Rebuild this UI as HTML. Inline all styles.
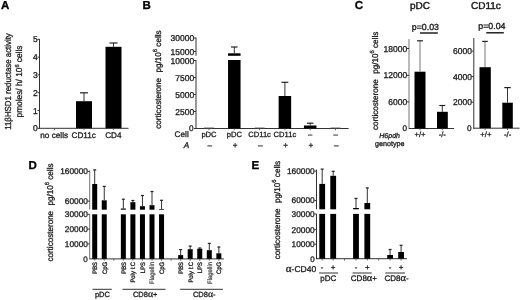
<!DOCTYPE html>
<html><head><meta charset="utf-8"><style>
html,body{margin:0;padding:0;background:#fff;}
svg{display:block;will-change:transform;text-rendering:geometricPrecision;filter:blur(0.3px);}
</style></head><body>
<svg width="520" height="300" viewBox="0 0 520 300">
<rect width="520" height="300" fill="#fff"/>
<line x1="39.5" y1="39" x2="39.5" y2="128.8" stroke="#333" stroke-width="1"/>
<line x1="39.5" y1="128.3" x2="128.5" y2="128.3" stroke="#333" stroke-width="1"/>
<line x1="37.5" y1="128.3" x2="39.5" y2="128.3" stroke="#333" stroke-width="1"/>
<line x1="37.5" y1="110.5" x2="39.5" y2="110.5" stroke="#333" stroke-width="1"/>
<line x1="37.5" y1="92.7" x2="39.5" y2="92.7" stroke="#333" stroke-width="1"/>
<line x1="37.5" y1="74.9" x2="39.5" y2="74.9" stroke="#333" stroke-width="1"/>
<line x1="37.5" y1="57.1" x2="39.5" y2="57.1" stroke="#333" stroke-width="1"/>
<line x1="37.5" y1="39.3" x2="39.5" y2="39.3" stroke="#333" stroke-width="1"/>
<rect x="76.00" y="101.20" width="16.00" height="27.10" fill="#000"/>
<rect x="105.50" y="46.80" width="16.00" height="81.50" fill="#000"/>
<line x1="84" y1="92.8" x2="84" y2="101.2" stroke="#333" stroke-width="1"/>
<line x1="80" y1="92.8" x2="88" y2="92.8" stroke="#222" stroke-width="1.2"/>
<line x1="113.5" y1="43" x2="113.5" y2="46.8" stroke="#333" stroke-width="1"/>
<line x1="109.5" y1="43" x2="117.5" y2="43" stroke="#222" stroke-width="1.2"/>
<line x1="54.5" y1="128.3" x2="54.5" y2="130.1" stroke="#555" stroke-width="0.9"/>
<line x1="84" y1="128.3" x2="84" y2="130.1" stroke="#555" stroke-width="0.9"/>
<line x1="113.5" y1="128.3" x2="113.5" y2="130.1" stroke="#555" stroke-width="0.9"/>
<line x1="196" y1="37.5" x2="196" y2="55.8" stroke="#333" stroke-width="1"/>
<line x1="196" y1="60" x2="196" y2="129" stroke="#333" stroke-width="1"/>
<line x1="196" y1="128.5" x2="348.6" y2="128.5" stroke="#333" stroke-width="1"/>
<line x1="194" y1="38" x2="196" y2="38" stroke="#333" stroke-width="1"/>
<line x1="194" y1="51.5" x2="196" y2="51.5" stroke="#333" stroke-width="1"/>
<line x1="194" y1="60.5" x2="196" y2="60.5" stroke="#333" stroke-width="1"/>
<line x1="194" y1="77.5" x2="196" y2="77.5" stroke="#333" stroke-width="1"/>
<line x1="194" y1="94.5" x2="196" y2="94.5" stroke="#333" stroke-width="1"/>
<line x1="194" y1="111.5" x2="196" y2="111.5" stroke="#333" stroke-width="1"/>
<line x1="194" y1="128.5" x2="196" y2="128.5" stroke="#333" stroke-width="1"/>
<rect x="228.05" y="53.30" width="12.50" height="2.50" fill="#000"/>
<rect x="228.05" y="60.00" width="12.50" height="68.50" fill="#000"/>
<line x1="234.3" y1="47" x2="234.3" y2="53.3" stroke="#333" stroke-width="1"/>
<line x1="231.05" y1="47" x2="237.55" y2="47" stroke="#222" stroke-width="1.2"/>
<rect x="278.65" y="96.00" width="12.50" height="32.50" fill="#000"/>
<line x1="284.9" y1="82.3" x2="284.9" y2="96" stroke="#333" stroke-width="1"/>
<line x1="281.5" y1="82.3" x2="288.3" y2="82.3" stroke="#222" stroke-width="1.2"/>
<rect x="303.95" y="125.50" width="12.50" height="3.00" fill="#000"/>
<line x1="310.2" y1="123.2" x2="310.2" y2="125.5" stroke="#333" stroke-width="1"/>
<line x1="306.95" y1="123.2" x2="313.45" y2="123.2" stroke="#222" stroke-width="1.2"/>
<rect x="204.00" y="127.60" width="10.00" height="1.00" fill="#444"/>
<rect x="254.60" y="127.60" width="10.00" height="1.00" fill="#444"/>
<rect x="330.50" y="127.60" width="10.00" height="1.00" fill="#444"/>
<line x1="209" y1="128.5" x2="209" y2="130.3" stroke="#555" stroke-width="0.9"/>
<line x1="234.3" y1="128.5" x2="234.3" y2="130.3" stroke="#555" stroke-width="0.9"/>
<line x1="259.6" y1="128.5" x2="259.6" y2="130.3" stroke="#555" stroke-width="0.9"/>
<line x1="284.9" y1="128.5" x2="284.9" y2="130.3" stroke="#555" stroke-width="0.9"/>
<line x1="310.2" y1="128.5" x2="310.2" y2="130.3" stroke="#555" stroke-width="0.9"/>
<line x1="335.5" y1="128.5" x2="335.5" y2="130.3" stroke="#555" stroke-width="0.9"/>
<line x1="420" y1="33" x2="437.8" y2="33" stroke="#111" stroke-width="1.4"/>
<line x1="486.3" y1="32.8" x2="503.8" y2="32.8" stroke="#111" stroke-width="1.4"/>
<line x1="409" y1="39" x2="409" y2="129" stroke="#777" stroke-width="1"/>
<line x1="409" y1="128.5" x2="454" y2="128.5" stroke="#333" stroke-width="1"/>
<line x1="407" y1="48.5" x2="409" y2="48.5" stroke="#333" stroke-width="1"/>
<line x1="407" y1="75.3" x2="409" y2="75.3" stroke="#333" stroke-width="1"/>
<line x1="407" y1="101.9" x2="409" y2="101.9" stroke="#333" stroke-width="1"/>
<rect x="414.50" y="71.70" width="11.00" height="56.80" fill="#000"/>
<line x1="420" y1="40.8" x2="420" y2="71.7" stroke="#777" stroke-width="1"/>
<line x1="417" y1="40.8" x2="423" y2="40.8" stroke="#222" stroke-width="1.2"/>
<rect x="437.00" y="111.80" width="10.80" height="16.70" fill="#000"/>
<line x1="442.3" y1="105.5" x2="442.3" y2="111.8" stroke="#333" stroke-width="1"/>
<line x1="439.3" y1="105.5" x2="445.3" y2="105.5" stroke="#222" stroke-width="1.2"/>
<line x1="420" y1="128.5" x2="420" y2="130.3" stroke="#555" stroke-width="0.9"/>
<line x1="442.3" y1="128.5" x2="442.3" y2="130.3" stroke="#555" stroke-width="0.9"/>
<line x1="473.8" y1="38" x2="473.8" y2="129" stroke="#333" stroke-width="1"/>
<line x1="473.8" y1="128.2" x2="519.5" y2="128.2" stroke="#333" stroke-width="1"/>
<line x1="471.8" y1="51.1" x2="473.8" y2="51.1" stroke="#333" stroke-width="1"/>
<line x1="471.8" y1="76.6" x2="473.8" y2="76.6" stroke="#333" stroke-width="1"/>
<line x1="471.8" y1="102.2" x2="473.8" y2="102.2" stroke="#333" stroke-width="1"/>
<rect x="479.50" y="67.20" width="11.30" height="61.00" fill="#000"/>
<line x1="485" y1="41.4" x2="485" y2="67.2" stroke="#777" stroke-width="1"/>
<line x1="482.2" y1="41.4" x2="487.8" y2="41.4" stroke="#222" stroke-width="1.2"/>
<rect x="502.30" y="102.70" width="10.50" height="25.50" fill="#000"/>
<line x1="507.5" y1="87.6" x2="507.5" y2="102.7" stroke="#333" stroke-width="1"/>
<line x1="504.25" y1="87.6" x2="510.75" y2="87.6" stroke="#222" stroke-width="1.2"/>
<line x1="485" y1="128.2" x2="485" y2="130" stroke="#555" stroke-width="0.9"/>
<line x1="507.5" y1="128.2" x2="507.5" y2="130" stroke="#555" stroke-width="0.9"/>
<line x1="89.7" y1="170.3" x2="89.7" y2="209.6" stroke="#777" stroke-width="1"/>
<line x1="89.7" y1="214.3" x2="89.7" y2="259.3" stroke="#777" stroke-width="1"/>
<line x1="89.7" y1="258.9" x2="223.9" y2="258.9" stroke="#333" stroke-width="1"/>
<line x1="87.7" y1="171.4" x2="89.7" y2="171.4" stroke="#333" stroke-width="1"/>
<line x1="87.7" y1="201.1" x2="89.7" y2="201.1" stroke="#333" stroke-width="1"/>
<line x1="87.7" y1="214.3" x2="89.7" y2="214.3" stroke="#333" stroke-width="1"/>
<line x1="87.7" y1="229.1" x2="89.7" y2="229.1" stroke="#333" stroke-width="1"/>
<line x1="87.7" y1="243.9" x2="89.7" y2="243.9" stroke="#333" stroke-width="1"/>
<rect x="92.20" y="184.00" width="5.00" height="25.70" fill="#000"/>
<rect x="92.20" y="214.30" width="5.00" height="44.60" fill="#000"/>
<line x1="94.7" y1="169.9" x2="94.7" y2="184" stroke="#333" stroke-width="1"/>
<line x1="93.2" y1="169.9" x2="96.2" y2="169.9" stroke="#222" stroke-width="1.2"/>
<rect x="101.75" y="200.30" width="5.00" height="9.40" fill="#000"/>
<rect x="101.75" y="214.30" width="5.00" height="44.60" fill="#000"/>
<line x1="104.25" y1="186.4" x2="104.25" y2="200.3" stroke="#333" stroke-width="1"/>
<line x1="102.75" y1="186.4" x2="105.75" y2="186.4" stroke="#222" stroke-width="1.2"/>
<rect x="120.85" y="208.50" width="5.00" height="1.20" fill="#000"/>
<rect x="120.85" y="214.30" width="5.00" height="44.60" fill="#000"/>
<line x1="123.35" y1="199.2" x2="123.35" y2="208.5" stroke="#333" stroke-width="1"/>
<line x1="121.85" y1="199.2" x2="124.85" y2="199.2" stroke="#222" stroke-width="1.2"/>
<rect x="130.40" y="202.20" width="5.00" height="7.50" fill="#000"/>
<rect x="130.40" y="214.30" width="5.00" height="44.60" fill="#000"/>
<line x1="132.9" y1="200.5" x2="132.9" y2="202.2" stroke="#333" stroke-width="1"/>
<line x1="131.4" y1="200.5" x2="134.4" y2="200.5" stroke="#222" stroke-width="1.2"/>
<rect x="139.95" y="206.20" width="5.00" height="3.50" fill="#000"/>
<rect x="139.95" y="214.30" width="5.00" height="44.60" fill="#000"/>
<line x1="142.45" y1="195.5" x2="142.45" y2="206.2" stroke="#333" stroke-width="1"/>
<line x1="140.95" y1="195.5" x2="143.95" y2="195.5" stroke="#222" stroke-width="1.2"/>
<rect x="149.50" y="205.20" width="5.00" height="4.50" fill="#000"/>
<rect x="149.50" y="214.30" width="5.00" height="44.60" fill="#000"/>
<line x1="152" y1="191.5" x2="152" y2="205.2" stroke="#333" stroke-width="1"/>
<line x1="150.5" y1="191.5" x2="153.5" y2="191.5" stroke="#222" stroke-width="1.2"/>
<rect x="159.05" y="209.00" width="5.00" height="0.70" fill="#000"/>
<rect x="159.05" y="214.30" width="5.00" height="44.60" fill="#000"/>
<line x1="161.55" y1="200.3" x2="161.55" y2="209" stroke="#333" stroke-width="1"/>
<line x1="160.05" y1="200.3" x2="163.05" y2="200.3" stroke="#222" stroke-width="1.2"/>
<rect x="178.15" y="255.10" width="5.00" height="3.80" fill="#000"/>
<line x1="180.65" y1="249.6" x2="180.65" y2="255.1" stroke="#333" stroke-width="1"/>
<line x1="179.15" y1="249.6" x2="182.15" y2="249.6" stroke="#222" stroke-width="1.2"/>
<rect x="187.70" y="249.20" width="5.00" height="9.70" fill="#000"/>
<line x1="190.2" y1="246.1" x2="190.2" y2="249.2" stroke="#333" stroke-width="1"/>
<line x1="188.7" y1="246.1" x2="191.7" y2="246.1" stroke="#222" stroke-width="1.2"/>
<rect x="197.25" y="248.70" width="5.00" height="10.20" fill="#000"/>
<line x1="199.75" y1="248" x2="199.75" y2="248.7" stroke="#333" stroke-width="1"/>
<line x1="198.25" y1="248" x2="201.25" y2="248" stroke="#222" stroke-width="1.2"/>
<rect x="206.80" y="250.20" width="5.00" height="8.70" fill="#000"/>
<line x1="209.3" y1="243.4" x2="209.3" y2="250.2" stroke="#333" stroke-width="1"/>
<line x1="207.8" y1="243.4" x2="210.8" y2="243.4" stroke="#222" stroke-width="1.2"/>
<rect x="216.35" y="253.30" width="5.00" height="5.60" fill="#000"/>
<line x1="218.85" y1="247" x2="218.85" y2="253.3" stroke="#333" stroke-width="1"/>
<line x1="217.35" y1="247" x2="220.35" y2="247" stroke="#222" stroke-width="1.2"/>
<line x1="94.7" y1="258.9" x2="94.7" y2="260.7" stroke="#555" stroke-width="0.9"/>
<line x1="104.25" y1="258.9" x2="104.25" y2="260.7" stroke="#555" stroke-width="0.9"/>
<line x1="113.8" y1="258.9" x2="113.8" y2="260.7" stroke="#555" stroke-width="0.9"/>
<line x1="123.35" y1="258.9" x2="123.35" y2="260.7" stroke="#555" stroke-width="0.9"/>
<line x1="132.9" y1="258.9" x2="132.9" y2="260.7" stroke="#555" stroke-width="0.9"/>
<line x1="142.45" y1="258.9" x2="142.45" y2="260.7" stroke="#555" stroke-width="0.9"/>
<line x1="152" y1="258.9" x2="152" y2="260.7" stroke="#555" stroke-width="0.9"/>
<line x1="161.55" y1="258.9" x2="161.55" y2="260.7" stroke="#555" stroke-width="0.9"/>
<line x1="171.1" y1="258.9" x2="171.1" y2="260.7" stroke="#555" stroke-width="0.9"/>
<line x1="180.65" y1="258.9" x2="180.65" y2="260.7" stroke="#555" stroke-width="0.9"/>
<line x1="190.2" y1="258.9" x2="190.2" y2="260.7" stroke="#555" stroke-width="0.9"/>
<line x1="199.75" y1="258.9" x2="199.75" y2="260.7" stroke="#555" stroke-width="0.9"/>
<line x1="209.3" y1="258.9" x2="209.3" y2="260.7" stroke="#555" stroke-width="0.9"/>
<line x1="218.85" y1="258.9" x2="218.85" y2="260.7" stroke="#555" stroke-width="0.9"/>
<line x1="92.5" y1="289.3" x2="111.8" y2="289.3" stroke="#333" stroke-width="1"/>
<line x1="122.5" y1="289.3" x2="165.5" y2="289.3" stroke="#333" stroke-width="1"/>
<line x1="180.2" y1="289.3" x2="222.9" y2="289.3" stroke="#333" stroke-width="1"/>
<line x1="316.5" y1="169.6" x2="316.5" y2="209.3" stroke="#333" stroke-width="1"/>
<line x1="316.5" y1="213.9" x2="316.5" y2="259.2" stroke="#333" stroke-width="1"/>
<line x1="316.5" y1="258.7" x2="407" y2="258.7" stroke="#333" stroke-width="1"/>
<line x1="314.5" y1="171.1" x2="316.5" y2="171.1" stroke="#333" stroke-width="1"/>
<line x1="314.5" y1="200.5" x2="316.5" y2="200.5" stroke="#333" stroke-width="1"/>
<line x1="314.5" y1="214" x2="316.5" y2="214" stroke="#333" stroke-width="1"/>
<line x1="314.5" y1="229.6" x2="316.5" y2="229.6" stroke="#333" stroke-width="1"/>
<line x1="314.5" y1="244.2" x2="316.5" y2="244.2" stroke="#333" stroke-width="1"/>
<rect x="319.30" y="183.90" width="5.80" height="25.40" fill="#000"/>
<rect x="319.30" y="213.90" width="5.80" height="44.80" fill="#000"/>
<line x1="322.2" y1="169.1" x2="322.2" y2="183.9" stroke="#333" stroke-width="1"/>
<line x1="320.7" y1="169.1" x2="323.7" y2="169.1" stroke="#222" stroke-width="1.2"/>
<rect x="330.30" y="175.80" width="5.80" height="33.50" fill="#000"/>
<rect x="330.30" y="213.90" width="5.80" height="44.80" fill="#000"/>
<line x1="333.2" y1="171.3" x2="333.2" y2="175.8" stroke="#333" stroke-width="1"/>
<line x1="331.7" y1="171.3" x2="334.7" y2="171.3" stroke="#222" stroke-width="1.2"/>
<rect x="353.10" y="208.00" width="5.80" height="1.30" fill="#000"/>
<rect x="353.10" y="213.90" width="5.80" height="44.80" fill="#000"/>
<line x1="356" y1="198.4" x2="356" y2="208" stroke="#333" stroke-width="1"/>
<line x1="354.5" y1="198.4" x2="357.5" y2="198.4" stroke="#222" stroke-width="1.2"/>
<rect x="364.40" y="203.00" width="5.80" height="6.30" fill="#000"/>
<rect x="364.40" y="213.90" width="5.80" height="44.80" fill="#000"/>
<line x1="367.3" y1="187.9" x2="367.3" y2="203" stroke="#333" stroke-width="1"/>
<line x1="365.8" y1="187.9" x2="368.8" y2="187.9" stroke="#222" stroke-width="1.2"/>
<rect x="387.20" y="255.00" width="5.80" height="3.70" fill="#000"/>
<line x1="390.1" y1="249.5" x2="390.1" y2="255" stroke="#333" stroke-width="1"/>
<line x1="388.6" y1="249.5" x2="391.6" y2="249.5" stroke="#222" stroke-width="1.2"/>
<rect x="398.20" y="252.00" width="5.80" height="6.70" fill="#000"/>
<line x1="401.1" y1="245.3" x2="401.1" y2="252" stroke="#333" stroke-width="1"/>
<line x1="399.6" y1="245.3" x2="402.6" y2="245.3" stroke="#222" stroke-width="1.2"/>
<line x1="322.2" y1="258.7" x2="322.2" y2="260.5" stroke="#555" stroke-width="0.9"/>
<line x1="333.2" y1="258.7" x2="333.2" y2="260.5" stroke="#555" stroke-width="0.9"/>
<line x1="344.5" y1="258.7" x2="344.5" y2="260.5" stroke="#555" stroke-width="0.9"/>
<line x1="356" y1="258.7" x2="356" y2="260.5" stroke="#555" stroke-width="0.9"/>
<line x1="367.3" y1="258.7" x2="367.3" y2="260.5" stroke="#555" stroke-width="0.9"/>
<line x1="378.7" y1="258.7" x2="378.7" y2="260.5" stroke="#555" stroke-width="0.9"/>
<line x1="390.1" y1="258.7" x2="390.1" y2="260.5" stroke="#555" stroke-width="0.9"/>
<line x1="401.1" y1="258.7" x2="401.1" y2="260.5" stroke="#555" stroke-width="0.9"/>
<line x1="319.1" y1="273" x2="338" y2="273" stroke="#333" stroke-width="1"/>
<line x1="352.5" y1="273" x2="371.7" y2="273" stroke="#333" stroke-width="1"/>
<line x1="385.3" y1="273" x2="405" y2="273" stroke="#333" stroke-width="1"/>
<g font-family="Liberation Sans, sans-serif" fill="#1a1a1a" stroke="#1a1a1a" stroke-width="0.3">
<text x="0.9" y="8.9" font-size="11.5" font-weight="bold" fill="#000" stroke="#000">A</text>
<text x="37.7" y="131.36" font-size="8.5" text-anchor="end">0</text>
<text x="37.7" y="113.56" font-size="8.5" text-anchor="end">1</text>
<text x="37.7" y="95.76" font-size="8.5" text-anchor="end">2</text>
<text x="37.7" y="77.96" font-size="8.5" text-anchor="end">3</text>
<text x="37.7" y="60.16" font-size="8.5" text-anchor="end">4</text>
<text x="37.7" y="42.36" font-size="8.5" text-anchor="end">5</text>
<text x="0" y="0" font-size="8.7" text-anchor="middle" transform="translate(10.6 81.5) rotate(-90) scale(0.905 1)">11βHSD1 reductase activity</text>
<text x="0" y="0" font-size="8.7" text-anchor="middle" transform="translate(22.3 81.5) rotate(-90) scale(0.955 1)">pmoles/ h/ 10<tspan font-size="5.9" dy="-3.5">6</tspan><tspan dy="3.5"> cells</tspan></text>
<text x="40.3" y="137.9" font-size="8.2">no cells</text>
<text x="71.5" y="137.9" font-size="8.2">CD11c</text>
<text x="105.2" y="137.9" font-size="8.2">CD4</text>
<text x="142.4" y="9.1" font-size="11.5" font-weight="bold" fill="#000" stroke="#000">B</text>
<text x="194.2" y="41.06" font-size="8.5" text-anchor="end">30000</text>
<text x="194.2" y="54.56" font-size="8.5" text-anchor="end">15000</text>
<text x="194.2" y="63.56" font-size="8.5" text-anchor="end">10000</text>
<text x="194.2" y="80.56" font-size="8.5" text-anchor="end">7500</text>
<text x="194.2" y="97.56" font-size="8.5" text-anchor="end">5000</text>
<text x="194.2" y="114.56" font-size="8.5" text-anchor="end">2500</text>
<text x="193.5" y="131" font-size="8.2" text-anchor="end">0</text>
<text x="0" y="0" font-size="8.3" transform="translate(161.2 128.7) rotate(-90) scale(0.975 1)">corticosterone<tspan dx="5.64">pg/10</tspan><tspan font-size="5.98" dy="-4.0">6</tspan><tspan dy="4.0"> cells</tspan></text>
<text x="174.6" y="137" font-size="8.2">Cell</text>
<text x="209" y="137" font-size="7.6" text-anchor="middle">pDC</text>
<text x="234.3" y="137" font-size="7.6" text-anchor="middle">pDC</text>
<text x="259.6" y="137" font-size="7.6" text-anchor="middle">CD11c</text>
<text x="284.9" y="137" font-size="7.6" text-anchor="middle">CD11c</text>
<text x="310.2" y="137" font-size="7.6" text-anchor="middle">–</text>
<text x="335.5" y="137" font-size="7.6" text-anchor="middle">–</text>
<text x="183.8" y="147.7" font-size="8.2" font-style="italic">A</text>
<text x="209.8" y="147.7" font-size="8.2" text-anchor="middle">–</text>
<text x="235.1" y="147.7" font-size="8.2" text-anchor="middle">+</text>
<text x="260.4" y="147.7" font-size="8.2" text-anchor="middle">–</text>
<text x="285.7" y="147.7" font-size="8.2" text-anchor="middle">+</text>
<text x="311.0" y="147.7" font-size="8.2" text-anchor="middle">+</text>
<text x="336.3" y="147.7" font-size="8.2" text-anchor="middle">–</text>
<text x="354.8" y="9.1" font-size="11.5" font-weight="bold" fill="#000" stroke="#000">C</text>
<text x="410" y="8.5" font-size="10" stroke-width="0.45">pDC</text>
<text x="471" y="8.5" font-size="10" stroke-width="0.45">CD11c</text>
<text x="411.8" y="29.5" font-size="8.8" stroke-width="0.35">p=0.03</text>
<text x="478.3" y="29.4" font-size="8.8" stroke-width="0.35">p=0.04</text>
<text x="0" y="0" font-size="8.3" transform="translate(377.6 130) rotate(-90) scale(0.975 1)">corticosterone<tspan dx="5.64">pg/10</tspan><tspan font-size="5.98" dy="-4.0">6</tspan><tspan dy="4.0"> cells</tspan></text>
<text x="407.2" y="51.56" font-size="8.5" text-anchor="end">18000</text>
<text x="407.2" y="78.36" font-size="8.5" text-anchor="end">12000</text>
<text x="407.2" y="104.96" font-size="8.5" text-anchor="end">6000</text>
<text x="407" y="131.3" font-size="8.2" text-anchor="end">0</text>
<text x="420" y="137.3" font-size="7.7" text-anchor="middle">+/+</text>
<text x="442.3" y="137.3" font-size="7.7" text-anchor="middle">-/-</text>
<text x="379.3" y="137.6" font-size="7" font-style="italic">H6pdh</text>
<text x="374.9" y="145.8" font-size="7.2">genotype</text>
<text x="472.0" y="54.16" font-size="8.5" text-anchor="end">6000</text>
<text x="472.0" y="79.66" font-size="8.5" text-anchor="end">4000</text>
<text x="472.0" y="105.26" font-size="8.5" text-anchor="end">2000</text>
<text x="471.5" y="131" font-size="8.2" text-anchor="end">0</text>
<text x="485.9" y="137.3" font-size="7.7" text-anchor="middle">+/+</text>
<text x="507.6" y="137.3" font-size="7.7" text-anchor="middle">-/-</text>
<text x="28.4" y="169.1" font-size="11.5" font-weight="bold" fill="#000" stroke="#000">D</text>
<text x="0" y="0" font-size="8.45" transform="translate(52.8 261.6) rotate(-90) scale(0.957 1)">corticosterone<tspan dx="5.75">pg/10</tspan><tspan font-size="6.08" dy="-4.0">6</tspan><tspan dy="4.0"> cells</tspan></text>
<text x="87.9" y="174.39" font-size="8.3" text-anchor="end">160000</text>
<text x="87.9" y="204.09" font-size="8.3" text-anchor="end">60000</text>
<text x="87.9" y="217.29" font-size="8.3" text-anchor="end">30000</text>
<text x="87.9" y="232.09" font-size="8.3" text-anchor="end">20000</text>
<text x="87.9" y="246.89" font-size="8.3" text-anchor="end">10000</text>
<text x="87.8" y="261.6" font-size="8" text-anchor="end">0</text>
<text x="0" y="0" font-size="6.4" text-anchor="end" transform="translate(97.00 262) rotate(-90) scale(0.92 1)">PBS</text>
<text x="0" y="0" font-size="6.4" text-anchor="end" transform="translate(106.55 262) rotate(-90) scale(0.92 1)">CpG</text>
<text x="0" y="0" font-size="6.4" text-anchor="end" transform="translate(125.65 262) rotate(-90) scale(0.92 1)">PBS</text>
<text x="0" y="0" font-size="6.4" text-anchor="end" transform="translate(135.20 262) rotate(-90) scale(0.92 1)">Poly I:C</text>
<text x="0" y="0" font-size="6.4" text-anchor="end" transform="translate(144.75 262) rotate(-90) scale(0.92 1)">LPS</text>
<text x="0" y="0" font-size="6.4" text-anchor="end" fill="#555" stroke="#555" transform="translate(154.30 262) rotate(-90) scale(0.92 1)">Flagellin</text>
<text x="0" y="0" font-size="6.4" text-anchor="end" transform="translate(163.85 262) rotate(-90) scale(0.92 1)">CpG</text>
<text x="0" y="0" font-size="6.4" text-anchor="end" transform="translate(182.95 262) rotate(-90) scale(0.92 1)">PBS</text>
<text x="0" y="0" font-size="6.4" text-anchor="end" transform="translate(192.50 262) rotate(-90) scale(0.92 1)">Poly I:C</text>
<text x="0" y="0" font-size="6.4" text-anchor="end" transform="translate(202.05 262) rotate(-90) scale(0.92 1)">LPS</text>
<text x="0" y="0" font-size="6.4" text-anchor="end" fill="#555" stroke="#555" transform="translate(211.60 262) rotate(-90) scale(0.92 1)">Flagellin</text>
<text x="0" y="0" font-size="6.4" text-anchor="end" transform="translate(221.15 262) rotate(-90) scale(0.92 1)">CpG</text>
<text x="102.4" y="297.3" font-size="7.5" text-anchor="middle">pDC</text>
<text x="145.2" y="297.3" font-size="7.5" text-anchor="middle">CD8<tspan font-family="Liberation Serif" font-size="1.3em">α</tspan>+</text>
<text x="204.2" y="297.3" font-size="7.5" text-anchor="middle">CD8<tspan font-family="Liberation Serif" font-size="1.3em">α</tspan>-</text>
<text x="251.5" y="168.8" font-size="11.5" font-weight="bold" fill="#000" stroke="#000">E</text>
<text x="0" y="0" font-size="8.3" transform="translate(279.6 259.2) rotate(-90) scale(0.975 1)">corticosterone<tspan dx="5.64">pg/10</tspan><tspan font-size="5.98" dy="-4.0">6</tspan><tspan dy="4.0"> cells</tspan></text>
<text x="314.7" y="174.09" font-size="8.3" text-anchor="end">160000</text>
<text x="314.7" y="203.49" font-size="8.3" text-anchor="end">60000</text>
<text x="314.7" y="216.99" font-size="8.3" text-anchor="end">30000</text>
<text x="314.7" y="232.59" font-size="8.3" text-anchor="end">20000</text>
<text x="314.7" y="247.19" font-size="8.3" text-anchor="end">10000</text>
<text x="314.6" y="261.5" font-size="8" text-anchor="end">0</text>
<text x="285.8" y="271.5" font-size="8.5"><tspan font-family="Liberation Serif" font-size="1.3em">α</tspan>-CD40</text>
<text x="322.2" y="269.7" font-size="8" text-anchor="middle">-</text>
<text x="333.2" y="269.7" font-size="8" text-anchor="middle">+</text>
<text x="356" y="269.7" font-size="8" text-anchor="middle">-</text>
<text x="367.3" y="269.7" font-size="8" text-anchor="middle">+</text>
<text x="390.1" y="269.7" font-size="8" text-anchor="middle">-</text>
<text x="401.1" y="269.7" font-size="8" text-anchor="middle">+</text>
<text x="328.2" y="280.9" font-size="8" text-anchor="middle">pDC</text>
<text x="363.9" y="280.9" font-size="8" text-anchor="middle">CD8<tspan font-family="Liberation Serif" font-size="1.3em">α</tspan>+</text>
<text x="396.6" y="280.9" font-size="8" text-anchor="middle">CD8<tspan font-family="Liberation Serif" font-size="1.3em">α</tspan>-</text>
</g>
</svg>
</body></html>
